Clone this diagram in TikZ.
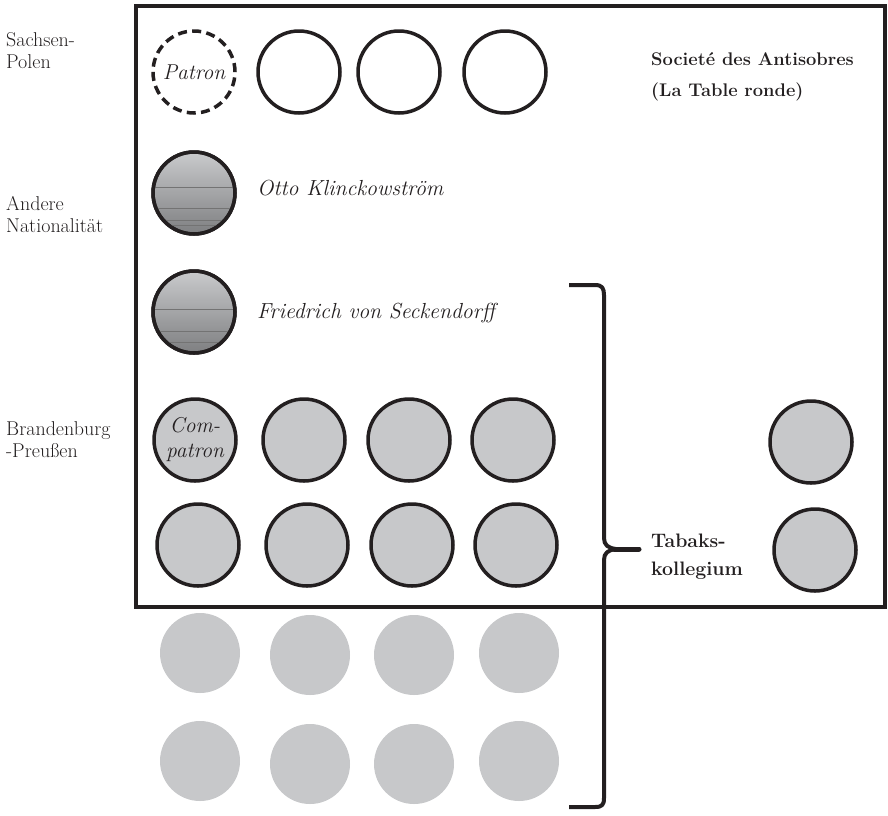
\documentclass[tikz,border=0pt]{standalone}
\usetikzlibrary{calc}
\definecolor{ink}{HTML}{231F20}
\definecolor{seatgrey}{HTML}{C7C8CA}
\definecolor{shadetop}{HTML}{C9CACC}
\definecolor{shadebot}{HTML}{7E7F81}
\tikzset{
  seat/.style={circle, minimum size=82pt, inner sep=0pt, fill=seatgrey, draw=ink, line width=3.5pt},
  emptyseat/.style={circle, minimum size=82pt, inner sep=0pt, draw=ink, line width=3.5pt},
  dashseat/.style={circle, minimum size=82pt, inner sep=0pt, draw=ink, line width=3.5pt, dash pattern=on 9pt off 5.3pt},
  ghostseat/.style={circle, minimum size=80pt, inner sep=0pt, fill=seatgrey},
  shadeseat/.style={circle, minimum size=82pt, inner sep=0pt, draw=ink, line width=3.5pt, top color=shadetop, bottom color=shadebot},
  sidelabel/.style={anchor=base west, align=left, text=ink, font=\fontsize{20}{22}\selectfont, inner sep=0pt},
  namelabel/.style={anchor=base west, text=ink, font=\fontsize{21.8}{25}\selectfont\itshape, inner sep=0pt},
  grouplabel/.style={anchor=base west, align=left, text=ink, inner sep=0pt},
  band/.style={draw=black!55, line width=1pt},
}
\begin{document}
\begin{tikzpicture}[x=1pt,y=-1pt]
\useasboundingbox (0,0) rectangle (888,815);
% frame
\draw[ink, line width=4pt] (136,6) rectangle (885,607);
% Sachsen-Polen row
\node[dashseat] (patron) at (194,72) {};
\node[font=\fontsize{21.5}{25}\selectfont\itshape, text=ink, inner sep=0pt] (patronlbl) at (194,72) {Patron};
\node[emptyseat] (s2) at (299,72) {};
\node[emptyseat] (s3) at (399,72) {};
\node[emptyseat] (s4) at (505,72) {};
% other nationality
\node[shadeseat] (otto) at (194,193) {};
\begin{scope}
  \clip (194,193) circle (40);
  \draw[band] (150,187) -- (240,187);
  \draw[band] (150,208) -- (240,208);
  \draw[band] (150,220) -- (240,220);
  \draw[band] (150,225) -- (240,225);
\end{scope}
\draw[ink, line width=3.5pt] (194,193) circle (41);
\node[namelabel] (ottolbl) at (257,195) {Otto Klinckowström};
\node[shadeseat] (seck) at (194,312) {};
\begin{scope}
  \clip (194,312) circle (40);
  \draw[band] (150,309) -- (240,309);
  \draw[band] (150,331) -- (240,331);
  \draw[band] (150,342) -- (240,342);
\end{scope}
\draw[ink, line width=3.5pt] (194,312) circle (41);
\node[namelabel] (secklbl) at (257,318) {Friedrich von Seckendorff};
% Brandenburg-Preussen rows
\node[seat] (compatron) at (195,440) {};
\node[font=\fontsize{21.5}{25}\selectfont\itshape, text=ink, align=center, inner sep=0pt] (complbl) at (195,440) {Com-\\patron};
\node[seat] (b2) at (304,440) {};
\node[seat] (b3) at (409,440) {};
\node[seat] (b4) at (513,440) {};
\node[seat] (b5) at (811,442) {};
\node[seat] (c1) at (198,545) {};
\node[seat] (c2) at (307,545) {};
\node[seat] (c3) at (412,545) {};
\node[seat] (c4) at (516,545) {};
\node[seat] (c5) at (815,550) {};
% outside rows
\node[ghostseat] (d1) at (200,653) {};
\node[ghostseat] (d2) at (310,655) {};
\node[ghostseat] (d3) at (414,655) {};
\node[ghostseat] (d4) at (519,653) {};
\node[ghostseat] (e1) at (200,761) {};
\node[ghostseat] (e2) at (310,764) {};
\node[ghostseat] (e3) at (414,764) {};
\node[ghostseat] (e4) at (519,761) {};
% brace
\draw[ink, line width=4pt, line join=round]
  (569,285) -- (595,285) .. controls (602,285) and (604,288) .. (604,295)
  -- (604,538) .. controls (604,545) and (608,548) .. (616,549);
\draw[ink, line width=4pt, line join=round]
  (616,549) .. controls (608,550) and (604,553) .. (604,560)
  -- (604,798) .. controls (604,805) and (602,807) .. (595,807) -- (569,807);
\draw[ink, line width=5pt, line cap=round] (614,549) -- (639,549);
% labels
\node[sidelabel] (sachsen) at (6,68) {Sachsen-\\Polen};
\node[sidelabel] (andere) at (6,232) {Andere\\Nationalität};
\node[sidelabel] (brand) at (6,457) {Brandenburg\\-Preußen};
\node[grouplabel, font=\fontsize{18.3}{31}\selectfont\bfseries] (societe) at (651,96.5) {Societé des Antisobres\\(La Table ronde)};
\node[grouplabel, font=\fontsize{19.5}{28}\selectfont\bfseries] (tabak) at (651,575) {Tabaks-\\kollegium};
\end{tikzpicture}
\end{document}
